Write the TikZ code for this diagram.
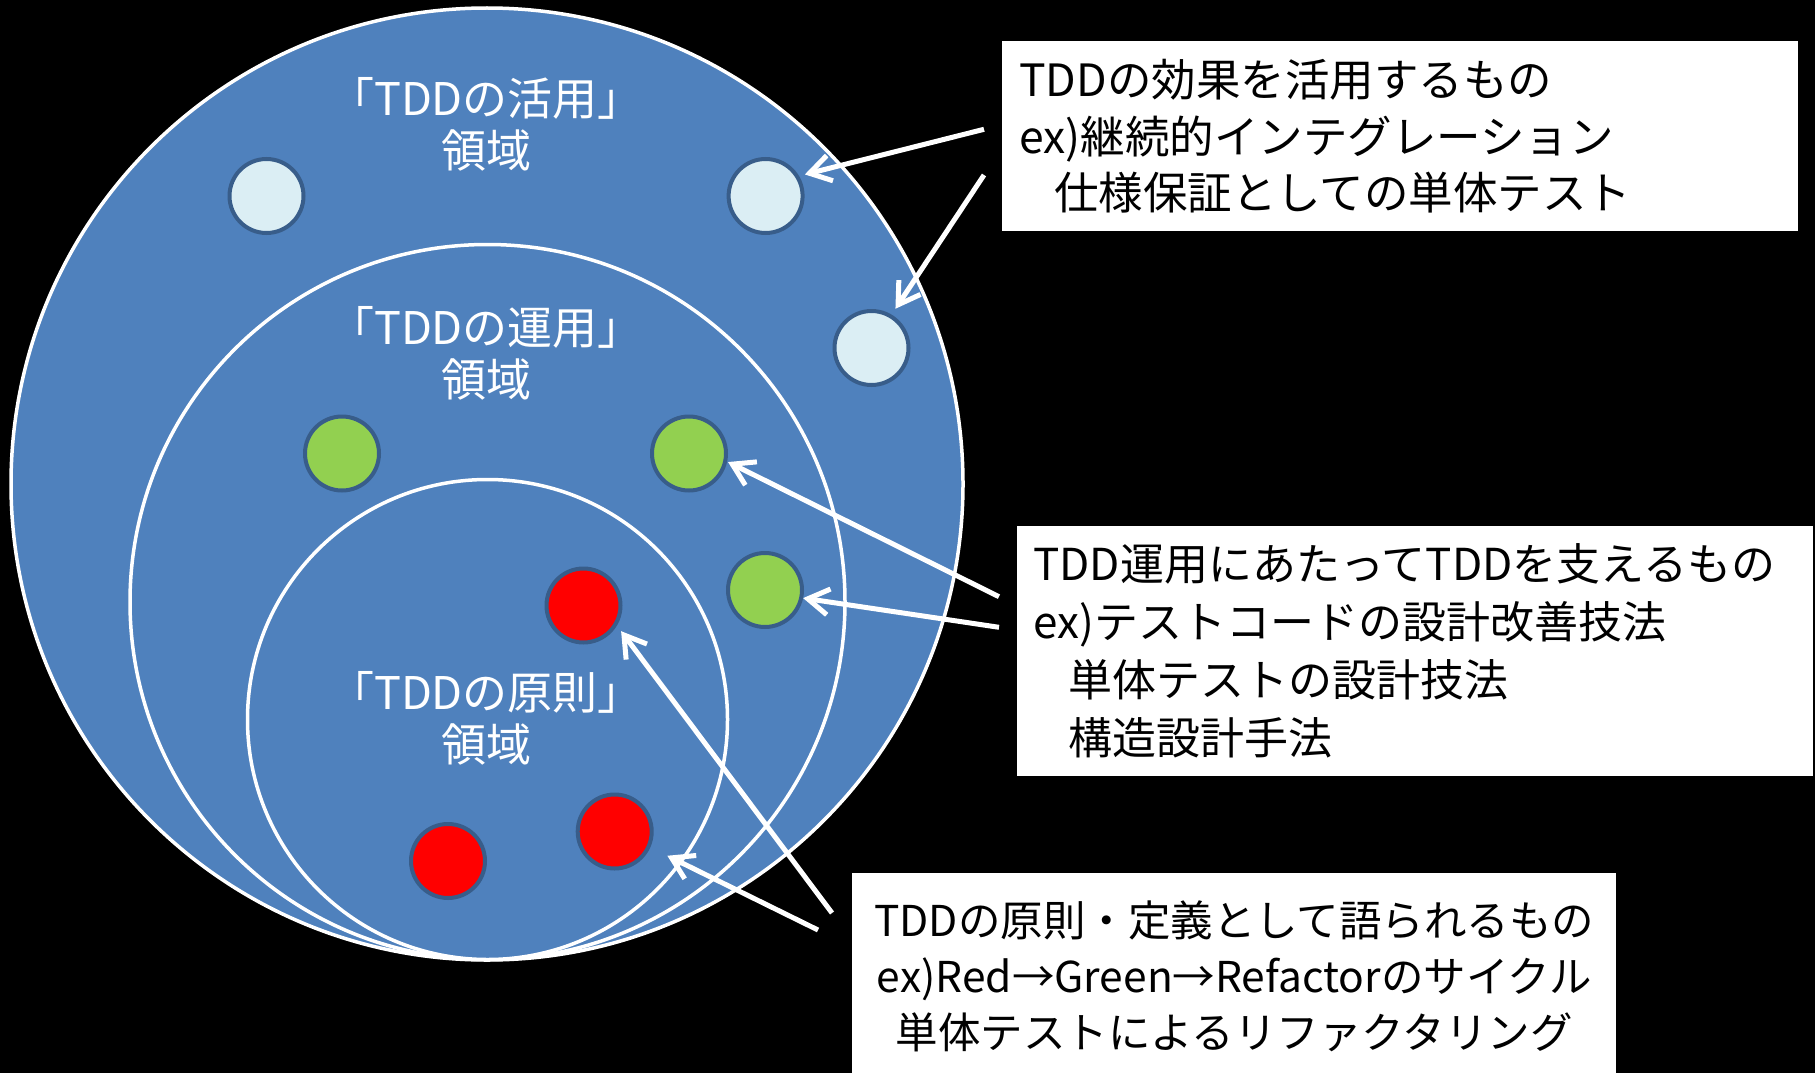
\documentclass[tikz,border=0pt]{standalone}
\usepackage{fontspec}
\setmainfont{Noto Sans CJK JP}
\usetikzlibrary{arrows.meta}
\definecolor{bgblue}{HTML}{4F81BD}
\definecolor{rim}{HTML}{385D8A}
\definecolor{paleblue}{HTML}{DBEEF4}
\definecolor{leaf}{HTML}{92D050}
\definecolor{redfill}{HTML}{FF0000}
\begin{document}
\begin{tikzpicture}[x=1pt,y=-1pt,
  zone/.style={circle, draw=white, fill=bgblue, line width=3.5pt, inner sep=0pt},
  dot/.style={circle, draw=rim, line width=4pt, minimum size=74pt, inner sep=0pt},
  zlabel/.style={text=white, align=center, font=\fontsize{45}{52}\selectfont},
  note/.style={rectangle, fill=white, draw=none, text=black, anchor=north west, inner ysep=0pt},
  arr/.style={draw=white, line width=5pt, -{Straight Barb[length=21pt,width=26pt]}}
]
\useasboundingbox (0,0) rectangle (1815,1073);
\fill[black] (0,0) rectangle (1815,1073);

% zones
\node[zone, minimum size=952pt] (outer) at (487,484) {};
\node[zone, minimum size=715pt] (middle) at (487.5,602) {};
\node[zone, minimum size=480pt] (inner) at (487.5,719.5) {};

% zone labels
\node[zlabel] (t1) at (486,124) {「TDDの活用」\\領域};
\node[zlabel] (t2) at (486,353.5) {「TDDの運用」\\領域};
\node[zlabel] (t3) at (486,718.5) {「TDDの原則」\\領域};

% dots
\node[dot, fill=paleblue] (lb1) at (266.5,196) {};
\node[dot, fill=paleblue] (lb2) at (765.6,196) {};
\node[dot, fill=paleblue] (lb3) at (871.5,348) {};
\node[dot, fill=leaf] (g1) at (342,453.5) {};
\node[dot, fill=leaf] (g2) at (689,453.5) {};
\node[dot, fill=leaf] (g3) at (765,590) {};
\node[dot, fill=redfill] (r1) at (583.5,605.5) {};
\node[dot, fill=redfill] (r2) at (614.7,831.5) {};
\node[dot, fill=redfill] (r3) at (448,861) {};

% boxes
\node[note, font=\fontsize{44.5}{56.5}\selectfont, minimum height=190pt, text width=762pt, inner xsep=17pt, align=left] (b1) at (1002,41)
  {TDDの効果を活用するもの\\ex)継続的インテグレーション\\\hspace*{35pt}仕様保証としての単体テスト};
\node[note, font=\fontsize{44}{58}\selectfont, minimum height=249.5pt, text width=764pt, inner xsep=16pt, align=left] (b2) at (1017,526)
  {TDD運用にあたってTDDを支えるもの\\ex)テストコードの設計改善技法\\\hspace*{35pt}単体テストの設計技法\\\hspace*{35pt}構造設計手法};
\node[note, font=\fontsize{42.5}{56}\selectfont, minimum height=207pt, text width=740pt, inner xsep=12pt, align=center] (b3) at (852,873)
  {TDDの原則・定義として語られるもの\\ex)Red→Green→Refactorのサイクル\\単体テストによるリファクタリング};

% arrow start points
\coordinate (a1s) at (984,129.3);
\coordinate (a2s) at (984,175);
\coordinate (a3s) at (999,596.7);
\coordinate (a4s) at (999,627.3);
\coordinate (a5s) at (832,913);
\coordinate (a6s) at (818,930);

\draw[arr, shorten >=6pt] (a1s) -- (lb2.31);
\draw[arr, shorten >=7pt] (a2s) -- (lb3.59);
\draw[arr, shorten >=1pt] (a3s) -- (g2.-12.6);
\draw[arr] (a4s) -- (g3.-12.2);
\draw[arr, shorten >=7pt] (a5s) -- (r1.-31);
\draw[arr, shorten >=19pt] (a6s) -- (r2.-24);
\end{tikzpicture}
\end{document}
